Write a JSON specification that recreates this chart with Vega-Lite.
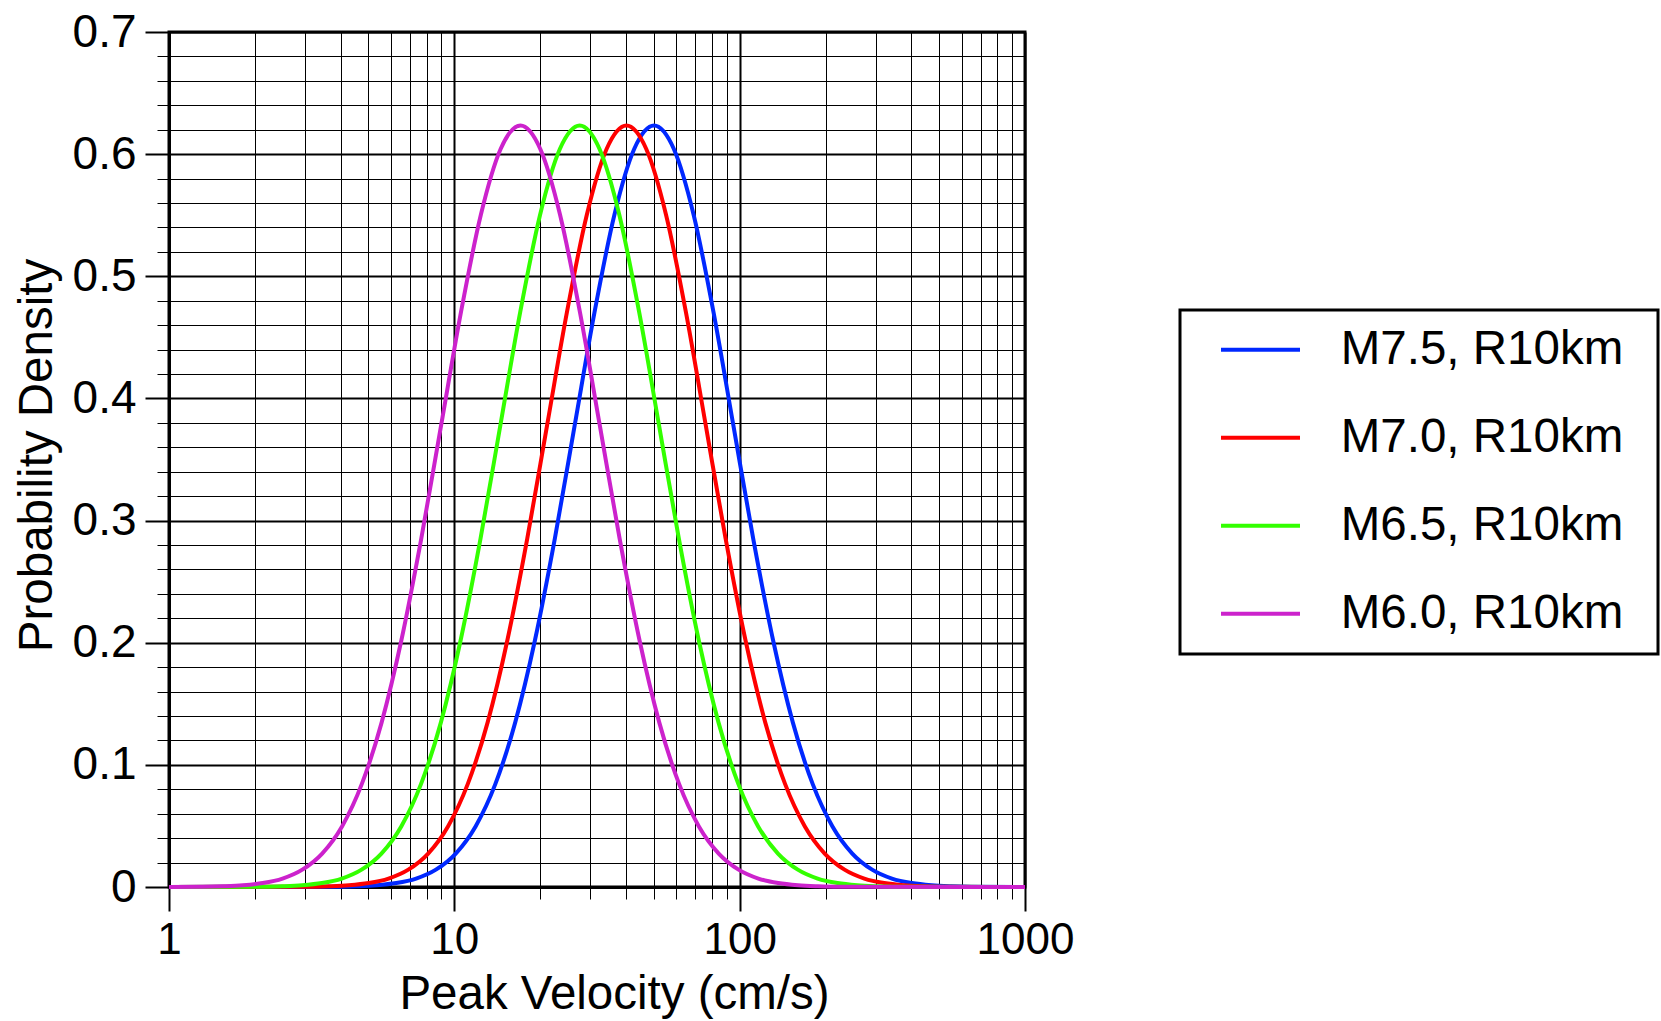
{
  "$schema": "https://vega.github.io/schema/vega-lite/v6.json",
  "width": 856,
  "height": 855,
  "autosize": {"type": "none"},
  "padding": {"left": 169, "top": 32, "right": 636, "bottom": 134},
  "background": "white",
  "config": {
    "font": "Liberation Sans",
    "view": {"stroke": "black", "strokeWidth": 3}
  },
  "data": {"values": [
    {"s":"M7.5, R10km","v":1,"p":0},{"s":"M7.5, R10km","v":3.873,"p":0.0002},{"s":"M7.5, R10km","v":4.545,"p":0.0006},{"s":"M7.5, R10km","v":5.334,"p":0.0014},{"s":"M7.5, R10km","v":6.259,"p":0.0032},{"s":"M7.5, R10km","v":7.345,"p":0.0069},{"s":"M7.5, R10km","v":8.619,"p":0.0142},{"s":"M7.5, R10km","v":10.115,"p":0.0274},{"s":"M7.5, R10km","v":11.87,"p":0.0496},{"s":"M7.5, R10km","v":13.93,"p":0.0844},{"s":"M7.5, R10km","v":16.347,"p":0.1348},{"s":"M7.5, R10km","v":19.183,"p":0.2024},{"s":"M7.5, R10km","v":22.511,"p":0.2854},{"s":"M7.5, R10km","v":26.417,"p":0.3781},{"s":"M7.5, R10km","v":31.001,"p":0.4706},{"s":"M7.5, R10km","v":36.38,"p":0.5502},{"s":"M7.5, R10km","v":42.692,"p":0.6042},{"s":"M7.5, R10km","v":50.1,"p":0.6234},{"s":"M7.5, R10km","v":58.793,"p":0.6042},{"s":"M7.5, R10km","v":68.994,"p":0.5502},{"s":"M7.5, R10km","v":80.965,"p":0.4706},{"s":"M7.5, R10km","v":95.014,"p":0.3781},{"s":"M7.5, R10km","v":111.5,"p":0.2854},{"s":"M7.5, R10km","v":130.846,"p":0.2024},{"s":"M7.5, R10km","v":153.549,"p":0.1348},{"s":"M7.5, R10km","v":180.192,"p":0.0844},{"s":"M7.5, R10km","v":211.457,"p":0.0496},{"s":"M7.5, R10km","v":248.147,"p":0.0274},{"s":"M7.5, R10km","v":291.203,"p":0.0142},{"s":"M7.5, R10km","v":341.73,"p":0.0069},{"s":"M7.5, R10km","v":401.024,"p":0.0032},{"s":"M7.5, R10km","v":470.606,"p":0.0014},{"s":"M7.5, R10km","v":552.262,"p":0.0006},{"s":"M7.5, R10km","v":648.084,"p":0.0002},{"s":"M7.5, R10km","v":1000,"p":0},
    {"s":"M7.0, R10km","v":1,"p":0},{"s":"M7.0, R10km","v":3.1,"p":0.0002},{"s":"M7.0, R10km","v":3.638,"p":0.0006},{"s":"M7.0, R10km","v":4.269,"p":0.0014},{"s":"M7.0, R10km","v":5.01,"p":0.0032},{"s":"M7.0, R10km","v":5.879,"p":0.0069},{"s":"M7.0, R10km","v":6.899,"p":0.0142},{"s":"M7.0, R10km","v":8.096,"p":0.0274},{"s":"M7.0, R10km","v":9.501,"p":0.0496},{"s":"M7.0, R10km","v":11.149,"p":0.0844},{"s":"M7.0, R10km","v":13.084,"p":0.1348},{"s":"M7.0, R10km","v":15.354,"p":0.2024},{"s":"M7.0, R10km","v":18.018,"p":0.2854},{"s":"M7.0, R10km","v":21.144,"p":0.3781},{"s":"M7.0, R10km","v":24.813,"p":0.4706},{"s":"M7.0, R10km","v":29.119,"p":0.5502},{"s":"M7.0, R10km","v":34.171,"p":0.6042},{"s":"M7.0, R10km","v":40.1,"p":0.6234},{"s":"M7.0, R10km","v":47.058,"p":0.6042},{"s":"M7.0, R10km","v":55.223,"p":0.5502},{"s":"M7.0, R10km","v":64.804,"p":0.4706},{"s":"M7.0, R10km","v":76.049,"p":0.3781},{"s":"M7.0, R10km","v":89.244,"p":0.2854},{"s":"M7.0, R10km","v":104.729,"p":0.2024},{"s":"M7.0, R10km","v":122.9,"p":0.1348},{"s":"M7.0, R10km","v":144.225,"p":0.0844},{"s":"M7.0, R10km","v":169.25,"p":0.0496},{"s":"M7.0, R10km","v":198.617,"p":0.0274},{"s":"M7.0, R10km","v":233.079,"p":0.0142},{"s":"M7.0, R10km","v":273.52,"p":0.0069},{"s":"M7.0, R10km","v":320.979,"p":0.0032},{"s":"M7.0, R10km","v":376.673,"p":0.0014},{"s":"M7.0, R10km","v":442.03,"p":0.0006},{"s":"M7.0, R10km","v":518.726,"p":0.0002},{"s":"M7.0, R10km","v":1000,"p":0},
    {"s":"M6.5, R10km","v":1,"p":0},{"s":"M6.5, R10km","v":2.126,"p":0.0002},{"s":"M6.5, R10km","v":2.495,"p":0.0006},{"s":"M6.5, R10km","v":2.928,"p":0.0014},{"s":"M6.5, R10km","v":3.436,"p":0.0032},{"s":"M6.5, R10km","v":4.032,"p":0.0069},{"s":"M6.5, R10km","v":4.731,"p":0.0142},{"s":"M6.5, R10km","v":5.552,"p":0.0274},{"s":"M6.5, R10km","v":6.516,"p":0.0496},{"s":"M6.5, R10km","v":7.646,"p":0.0844},{"s":"M6.5, R10km","v":8.973,"p":0.1348},{"s":"M6.5, R10km","v":10.53,"p":0.2024},{"s":"M6.5, R10km","v":12.357,"p":0.2854},{"s":"M6.5, R10km","v":14.501,"p":0.3781},{"s":"M6.5, R10km","v":17.016,"p":0.4706},{"s":"M6.5, R10km","v":19.969,"p":0.5502},{"s":"M6.5, R10km","v":23.434,"p":0.6042},{"s":"M6.5, R10km","v":27.5,"p":0.6234},{"s":"M6.5, R10km","v":32.272,"p":0.6042},{"s":"M6.5, R10km","v":37.871,"p":0.5502},{"s":"M6.5, R10km","v":44.442,"p":0.4706},{"s":"M6.5, R10km","v":52.153,"p":0.3781},{"s":"M6.5, R10km","v":61.202,"p":0.2854},{"s":"M6.5, R10km","v":71.822,"p":0.2024},{"s":"M6.5, R10km","v":84.283,"p":0.1348},{"s":"M6.5, R10km","v":98.908,"p":0.0844},{"s":"M6.5, R10km","v":116.069,"p":0.0496},{"s":"M6.5, R10km","v":136.208,"p":0.0274},{"s":"M6.5, R10km","v":159.842,"p":0.0142},{"s":"M6.5, R10km","v":187.576,"p":0.0069},{"s":"M6.5, R10km","v":220.123,"p":0.0032},{"s":"M6.5, R10km","v":258.317,"p":0.0014},{"s":"M6.5, R10km","v":303.138,"p":0.0006},{"s":"M6.5, R10km","v":355.735,"p":0.0002},{"s":"M6.5, R10km","v":1000,"p":0},
    {"s":"M6.0, R10km","v":1,"p":0},{"s":"M6.0, R10km","v":1.318,"p":0.0002},{"s":"M6.0, R10km","v":1.547,"p":0.0006},{"s":"M6.0, R10km","v":1.815,"p":0.0014},{"s":"M6.0, R10km","v":2.13,"p":0.0032},{"s":"M6.0, R10km","v":2.5,"p":0.0069},{"s":"M6.0, R10km","v":2.933,"p":0.0142},{"s":"M6.0, R10km","v":3.442,"p":0.0274},{"s":"M6.0, R10km","v":4.04,"p":0.0496},{"s":"M6.0, R10km","v":4.741,"p":0.0844},{"s":"M6.0, R10km","v":5.563,"p":0.1348},{"s":"M6.0, R10km","v":6.528,"p":0.2024},{"s":"M6.0, R10km","v":7.661,"p":0.2854},{"s":"M6.0, R10km","v":8.99,"p":0.3781},{"s":"M6.0, R10km","v":10.55,"p":0.4706},{"s":"M6.0, R10km","v":12.381,"p":0.5502},{"s":"M6.0, R10km","v":14.529,"p":0.6042},{"s":"M6.0, R10km","v":17.05,"p":0.6234},{"s":"M6.0, R10km","v":20.008,"p":0.6042},{"s":"M6.0, R10km","v":23.48,"p":0.5502},{"s":"M6.0, R10km","v":27.554,"p":0.4706},{"s":"M6.0, R10km","v":32.335,"p":0.3781},{"s":"M6.0, R10km","v":37.945,"p":0.2854},{"s":"M6.0, R10km","v":44.529,"p":0.2024},{"s":"M6.0, R10km","v":52.256,"p":0.1348},{"s":"M6.0, R10km","v":61.323,"p":0.0844},{"s":"M6.0, R10km","v":71.963,"p":0.0496},{"s":"M6.0, R10km","v":84.449,"p":0.0274},{"s":"M6.0, R10km","v":99.102,"p":0.0142},{"s":"M6.0, R10km","v":116.297,"p":0.0069},{"s":"M6.0, R10km","v":136.476,"p":0.0032},{"s":"M6.0, R10km","v":160.156,"p":0.0014},{"s":"M6.0, R10km","v":187.946,"p":0.0006},{"s":"M6.0, R10km","v":220.555,"p":0.0002},{"s":"M6.0, R10km","v":1000,"p":0}
  ]},
  "layer": [
    {
      "mark": {"type": "line", "strokeOpacity": 0},
      "encoding": {
        "x": {
          "field": "v", "type": "quantitative",
          "scale": {"type": "log", "domain": [1, 1000], "nice": false},
          "axis": {
            "orient": "bottom",
            "values": [2,3,4,5,6,7,8,9,20,30,40,50,60,70,80,90,200,300,400,500,600,700,800,900],
            "labels": false, "domain": false, "title": null,
            "ticks": true, "tickSize": 12, "tickWidth": 1, "tickColor": "black",
            "grid": true, "gridColor": "black", "gridWidth": 1, "gridOpacity": 1
          }
        },
        "y": {
          "field": "p", "type": "quantitative",
          "scale": {"domain": [0, 0.7], "nice": false, "zero": true},
          "axis": {
            "orient": "left",
            "values": [0.02,0.04,0.06,0.08,0.12,0.14,0.16,0.18,0.22,0.24,0.26,0.28,0.32,0.34,0.36,0.38,0.42,0.44,0.46,0.48,0.52,0.54,0.56,0.58,0.62,0.64,0.66,0.68],
            "labels": false, "domain": false, "title": null,
            "ticks": true, "tickSize": 12, "tickWidth": 1, "tickColor": "black",
            "grid": true, "gridColor": "black", "gridWidth": 1, "gridOpacity": 1
          }
        }
      }
    },
    {
      "mark": {"type": "line", "strokeWidth": 4, "interpolate": "monotone"},
      "encoding": {
        "x": {
          "field": "v", "type": "quantitative",
          "scale": {"type": "log", "domain": [1, 1000], "nice": false},
          "axis": {
            "orient": "bottom",
            "values": [1, 10, 100, 1000],
            "format": "d",
            "labelFontSize": 44, "labelColor": "black", "labelPadding": 7,
            "labelFlush": false, "labelOverlap": false, "labelBound": false,
            "domain": true, "domainColor": "black", "domainWidth": 3,
            "ticks": true, "tickSize": 24, "tickWidth": 2, "tickColor": "black",
            "grid": true, "gridColor": "black", "gridWidth": 2, "gridOpacity": 1,
            "title": "Peak Velocity (cm/s)",
            "titleFontSize": 47.5, "titleFontWeight": "normal", "titleColor": "black",
            "titleX": 445, "titleY": 121, "titleBaseline": "alphabetic", "titleAlign": "center", "titleAnchor": null
          }
        },
        "y": {
          "field": "p", "type": "quantitative",
          "scale": {"domain": [0, 0.7], "nice": false, "zero": true},
          "axis": {
            "orient": "left",
            "values": [0, 0.1, 0.2, 0.3, 0.4, 0.5, 0.6, 0.7],
            "format": ".1~f",
            "labelFontSize": 46, "labelColor": "black", "labelPadding": 9,
            "labelFlush": false, "labelOverlap": false, "labelBound": false,
            "domain": true, "domainColor": "black", "domainWidth": 3,
            "ticks": true, "tickSize": 24, "tickWidth": 2, "tickColor": "black",
            "grid": true, "gridColor": "black", "gridWidth": 2, "gridOpacity": 1,
            "title": "Probability Density",
            "titleFontSize": 47.5, "titleFontWeight": "normal", "titleColor": "black",
            "titleAngle": -90, "titleX": -118, "titleY": 423, "titleBaseline": "alphabetic", "titleAlign": "center", "titleAnchor": null
          }
        },
        "color": {
          "field": "s", "type": "nominal",
          "scale": {
            "domain": ["M7.5, R10km", "M7.0, R10km", "M6.5, R10km", "M6.0, R10km"],
            "range": ["#0028ff", "#ff0000", "#33ff00", "#cc22cc"]
          },
          "legend": {
            "orient": "none", "legendX": 1011, "legendY": 278,
            "title": " ", "titleOrient": "right", "titlePadding": 19, "titleFontSize": 1,
            "symbolType": "M-2,0H2", "symbolSize": 1560, "symbolStrokeWidth": 4,
            "symbolOffset": 40.75,
            "labelFontSize": 47.5, "labelColor": "black", "labelOffset": 56.5, "labelLimit": 0,
            "padding": 16, "rowPadding": 39,
            "strokeColor": "black",
            "encode": {"legend": {"update": {"strokeWidth": {"value": 3}}}}
          }
        }
      }
    }
  ],
  "resolve": {"axis": {"x": "independent", "y": "independent"}}
}
